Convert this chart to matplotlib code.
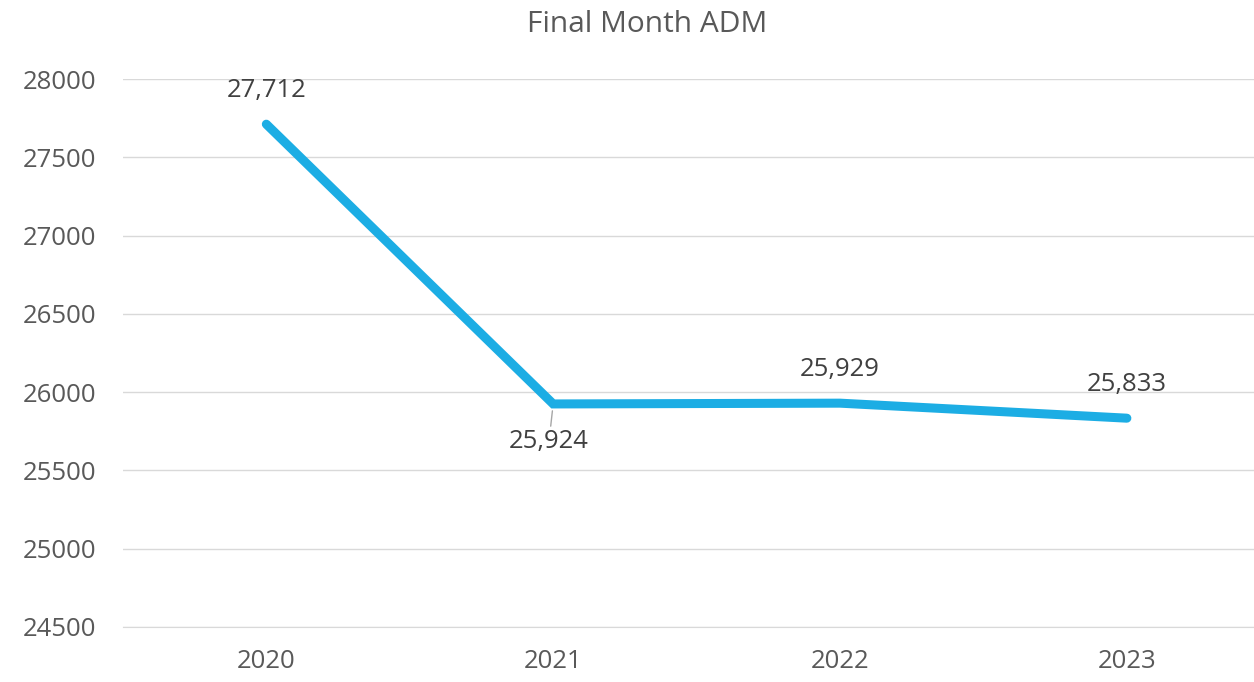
import matplotlib.pyplot as plt

years = ['2020', '2021', '2022', '2023']
adm = [27712, 25924, 25929, 25833]
label_pos = ['above', 'below', 'above', 'above']

plt.rcParams['font.family'] = ['Open Sans', 'DejaVu Sans']
txt = '#595959'

fig = plt.figure(figsize=(12.54, 6.82), dpi=100)
ax = fig.add_axes([0.098, 0.081, 0.915, 0.803])

x = range(len(years))
ax.plot(x, adm, color='#1CADE4', lw=6.5, solid_capstyle='round', solid_joinstyle='miter', zorder=3)

for i, (v, pos) in enumerate(zip(adm, label_pos)):
    s = f'{v:,}'
    if pos == 'above':
        ax.annotate(s, (i, v), xytext=(0, 15), textcoords='offset points',
                    ha='center', va='bottom', fontsize=18.5, color='#404040')
    else:
        ax.annotate(s, (i, v), xytext=(-3, -18), textcoords='offset points',
                    ha='center', va='top', fontsize=18.5, color='#404040',
                    arrowprops=dict(arrowstyle='-', color='#a6a6a6', lw=1,
                                    shrinkA=0, shrinkB=5))

ax.set_xlim(-0.5, 3.5)
ax.set_ylim(24500, 28000)
ax.set_yticks(range(24500, 28001, 500))
ax.set_xticks(list(x))
ax.set_xticklabels(years)
ax.grid(axis='y', color='#d9d9d9', lw=1)
ax.set_axisbelow(True)
for sp in ax.spines.values():
    sp.set_visible(False)
ax.spines['bottom'].set_visible(True)
ax.spines['bottom'].set_color('#d9d9d9')
ax.tick_params(length=0, labelsize=18.5, labelcolor=txt)
ax.tick_params(axis='y', pad=19)
ax.tick_params(axis='x', pad=16)
fig.text(0.516, 0.964, 'Final Month ADM', fontsize=21.5, color=txt, ha='center', va='center')

fig.savefig('out.png', dpi=100)
